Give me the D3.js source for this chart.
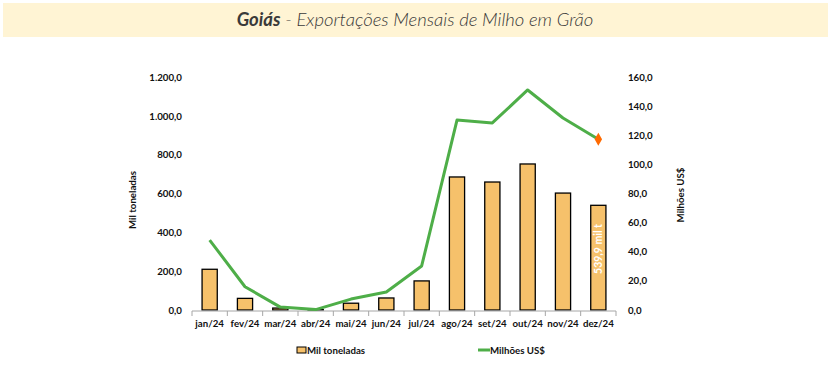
<!DOCTYPE html>
<html><head><meta charset="utf-8">
<script src="https://cdn.jsdelivr.net/npm/d3@7"></script>
<style>body{margin:0;background:#fff}svg{display:block}text{font-family:Lato,"Open Sans",sans-serif}</style>
</head><body><svg id="c" width="831" height="386"></svg>
<script>
const months = ["jan/24","fev/24","mar/24","abr/24","mai/24","jun/24","jul/24","ago/24","set/24","out/24","nov/24","dez/24"];
const milToneladas = [210, 60, 10, 2, 35, 62, 150, 686, 660, 753, 603, 539.9];
const milhoesUSD = [48.1, 16.0, 2.0, 0.3, 7.5, 12.4, 30.3, 130.6, 128.6, 151.3, 132.0, 117.4];
const leftTicks = [0, 200, 400, 600, 800, 1000, 1200];
const rightTicks = [0, 20, 40, 60, 80, 100, 120, 140, 160];

const svg = d3.select("#c");
const fmt = v => { const s = d3.format(",.1f")(v); return s.replace(/,/g,"#").replace(".",",").replace(/#/g,"."); };

// title band
svg.append("rect").attr("x",3).attr("y",3).attr("width",825).attr("height",34).attr("fill","#FFF4D4");
const t = svg.append("text").attr("x",415).attr("y",26).attr("text-anchor","middle")
  .attr("font-size",18.5).attr("font-style","italic").attr("fill","#3a3a3a");
t.append("tspan").attr("font-weight","bold").text("Goiás");
t.append("tspan").attr("font-weight","300").text(" - Exportações Mensais de Milho em Grão");

const x = d3.scaleBand().domain(months).range([192,616]).paddingInner(0.57).paddingOuter(0.285);
const yL = d3.scaleLinear().domain([0,1200]).range([310,77.3]);
const yR = d3.scaleLinear().domain([0,160]).range([310,77.3]);

// bars
svg.append("g").selectAll("rect").data(milToneladas).join("rect")
  .attr("x",(d,i)=>x(months[i])).attr("width",x.bandwidth())
  .attr("y",d=>yL(d)).attr("height",d=>yL(0)-yL(d))
  .attr("fill","#F6C16B").attr("stroke","#000").attr("stroke-width",1.3);

// x axis
const xa = svg.append("g").attr("transform","translate(0,311)");
xa.append("line").attr("x1",192).attr("x2",616).attr("stroke","#A6A6A6");
xa.selectAll("line.tk").data(d3.range(13)).join("line").attr("class","tk")
  .attr("x1",i=>192+i*(424/12)).attr("x2",i=>192+i*(424/12)).attr("y1",0).attr("y2",5).attr("stroke","#A6A6A6");
xa.selectAll("text").data(months).join("text")
  .attr("x",d=>x(d)+x.bandwidth()/2).attr("y",16).attr("text-anchor","middle")
  .attr("font-size",9.7).attr("font-weight","bold").attr("fill","#111").text(d=>d);

// axis labels
svg.append("g").selectAll("text").data(leftTicks).join("text")
  .attr("x",182).attr("y",d=>yL(d)+3.5).attr("text-anchor","end")
  .attr("font-size",9.7).attr("font-weight","bold").attr("fill","#111").text(fmt);
svg.append("g").selectAll("text").data(rightTicks).join("text")
  .attr("x",628).attr("y",d=>yR(d)+3.5).attr("text-anchor","start")
  .attr("font-size",9.7).attr("font-weight","bold").attr("fill","#111").text(fmt);

svg.append("text").attr("transform","translate(136,200) rotate(-90)").attr("text-anchor","middle")
  .attr("font-size",9.7).attr("font-weight","bold").attr("fill","#111").text("Mil toneladas");
svg.append("text").attr("transform","translate(684,195) rotate(-90)").attr("text-anchor","middle")
  .attr("font-size",9.7).attr("font-weight","bold").attr("fill","#111").text("Milhões US$");

// line
const line = d3.line().x((d,i)=>x(months[i])+x.bandwidth()/2).y(d=>yR(d));
svg.append("path").datum(milhoesUSD).attr("d",line).attr("fill","none")
  .attr("stroke","#4EAE48").attr("stroke-width",3).attr("stroke-linejoin","round");
const li = milhoesUSD.length-1;
svg.append("path").attr("d",d3.symbol(d3.symbolDiamond,48)())
  .attr("transform",`translate(${x(months[li])+x.bandwidth()/2},${yR(milhoesUSD[li])})`).attr("fill","#FF6A00");

// data label
const bx = x(months[li])+x.bandwidth()/2;
svg.append("text").attr("transform",`translate(${bx+3.8},249) rotate(-90)`)
  .attr("text-anchor","middle").attr("font-size",10.5).attr("font-weight","bold").attr("fill","#fff")
  .text(fmt(milToneladas[li])+" mil t");

// legend
const lg = svg.append("g");
lg.append("rect").attr("x",297).attr("y",347).attr("width",9).attr("height",6).attr("fill","#F6C16B").attr("stroke","#000");
lg.append("text").attr("x",307).attr("y",354).attr("font-size",9.7).attr("font-weight","bold").attr("fill","#111").text("Mil toneladas");
lg.append("line").attr("x1",478).attr("x2",490).attr("y1",350).attr("y2",350).attr("stroke","#4EAE48").attr("stroke-width",3);
lg.append("text").attr("x",490).attr("y",354).attr("font-size",9.7).attr("font-weight","bold").attr("fill","#111").text("Milhões US$");
</script></body></html>
